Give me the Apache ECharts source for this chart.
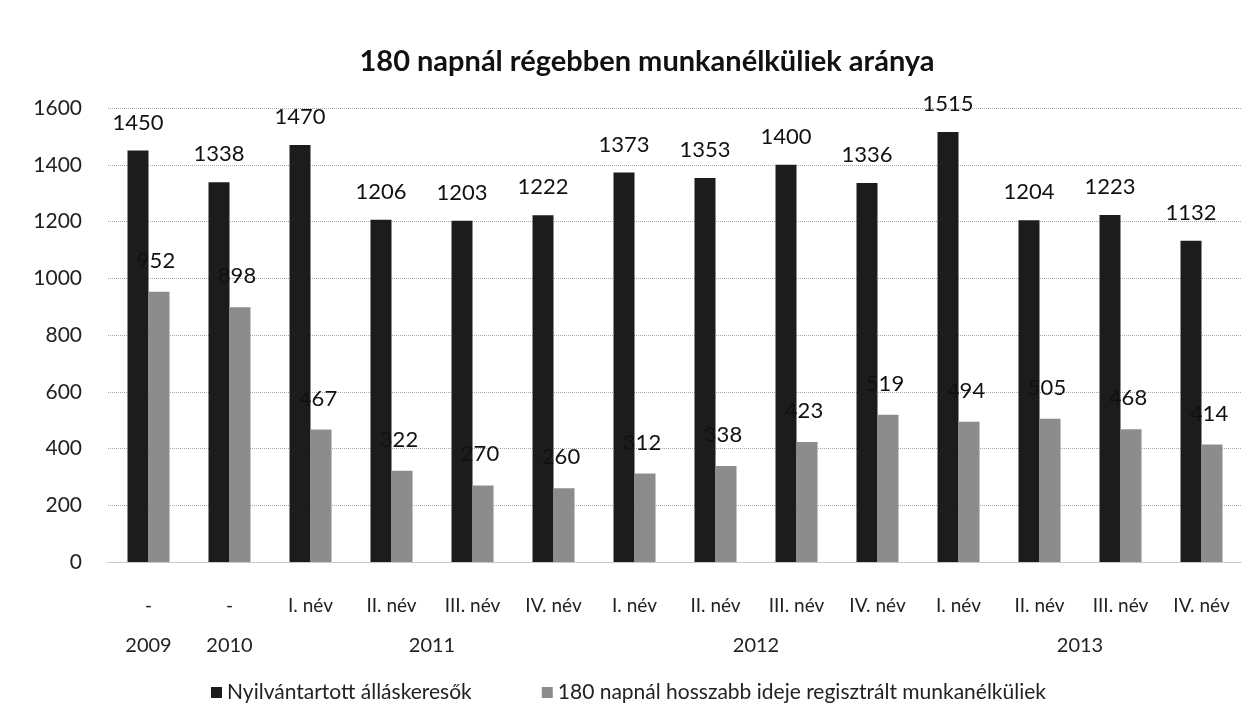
<!DOCTYPE html>
<html>
<head>
<meta charset="utf-8">
<script src="https://cdn.jsdelivr.net/npm/echarts@6/dist/echarts.min.js"></script>
<style>
  html, body { margin: 0; padding: 0; background: #fff; }
  #chart { width: 1257px; height: 728px; }
</style>
</head>
<body>
<div id="chart"></div>
<script>
// adatok
const categories = ['-', '-', 'I. név', 'II. név', 'III. név', 'IV. név', 'I. név', 'II. név', 'III. név', 'IV. név', 'I. név', 'II. név', 'III. név', 'IV. név'];
const allaskeresok = [1450, 1338, 1470, 1206, 1203, 1222, 1373, 1353, 1400, 1336, 1515, 1204, 1223, 1132];
const hosszabb = [952, 898, 467, 322, 270, 260, 312, 338, 423, 519, 494, 505, 468, 414];
const years = ['2009', '2010', '2011', '2012', '2013'];
const yearSpan = [1, 1, 4, 4, 4];
const yTicks = [0, 200, 400, 600, 800, 1000, 1200, 1400, 1600];

// évek középpontja a kategória tengelyen
const yearAt = {};
let start = 0;
years.forEach((y, i) => {
  yearAt[(start + yearSpan[i] / 2).toFixed(1)] = y;
  start += yearSpan[i];
});

const font = 'Lato, "Open Sans", sans-serif';
const chart = echarts.init(document.getElementById('chart'));

const option = {
  backgroundColor: '#fff',
  animation: false,
  title: {
    text: '180 napnál régebben munkanélküliek aránya',
    left: 642,
    textAlign: 'center',
    top: 42,
    textStyle: { fontFamily: font, fontSize: 29, fontWeight: 'bold', color: '#111' }
  },
  legend: {
    bottom: 20,
    left: 'center',
    itemWidth: 11,
    itemHeight: 11,
    itemGap: 70,
    icon: 'rect',
    textStyle: { fontFamily: font, fontSize: 21, color: '#222' },
    data: ['Nyilvántartott álláskeresők', '180 napnál hosszabb ideje regisztrált munkanélküliek']
  },
  grid: { left: 108, right: 15, top: 108, bottom: 166 },
  xAxis: [
    {
      type: 'category',
      data: categories,
      axisLine: { show: true, lineStyle: { color: '#bbb', type: 'dotted' } },
      axisTick: { show: false },
      axisLabel: { margin: 34, fontFamily: font, fontSize: 19, color: '#222', interval: 0 }
    },
    {
      type: 'value',
      position: 'bottom',
      offset: 40,
      min: 0,
      max: categories.length,
      interval: 0.5,
      axisLine: { show: false },
      axisTick: { show: false },
      splitLine: { show: false },
      axisLabel: {
        margin: 34,
        fontFamily: font, fontSize: 20, color: '#222',
        showMinLabel: true, showMaxLabel: true,
        formatter: v => yearAt[v.toFixed(1)] || ''
      }
    }
  ],
  yAxis: {
    type: 'value',
    min: 0,
    max: yTicks[yTicks.length - 1],
    interval: yTicks[1] - yTicks[0],
    axisLine: { show: false },
    axisTick: { show: false },
    axisLabel: { margin: 26, fontFamily: font, fontSize: 21, color: '#222', formatter: v => String(v) },
    splitLine: { lineStyle: { color: '#aaa', type: 'dotted' } }
  },
  series: [
    {
      name: 'Nyilvántartott álláskeresők',
      type: 'bar',
      data: allaskeresok,
      barWidth: 21,
      barGap: '0%',
      itemStyle: { color: '#1c1c1c' },
      label: {
        show: true, position: 'top', distance: 17,
        fontFamily: font, fontSize: 22, color: '#111'
      }
    },
    {
      name: '180 napnál hosszabb ideje regisztrált munkanélküliek',
      type: 'bar',
      data: hosszabb,
      barWidth: 21,
      itemStyle: { color: '#8c8c8c' },
      label: {
        show: true, position: 'top', distance: 20, offset: [-3, 0],
        fontFamily: font, fontSize: 22, color: '#111'
      }
    }
  ]
};

chart.setOption(option);
</script>
</body>
</html>
